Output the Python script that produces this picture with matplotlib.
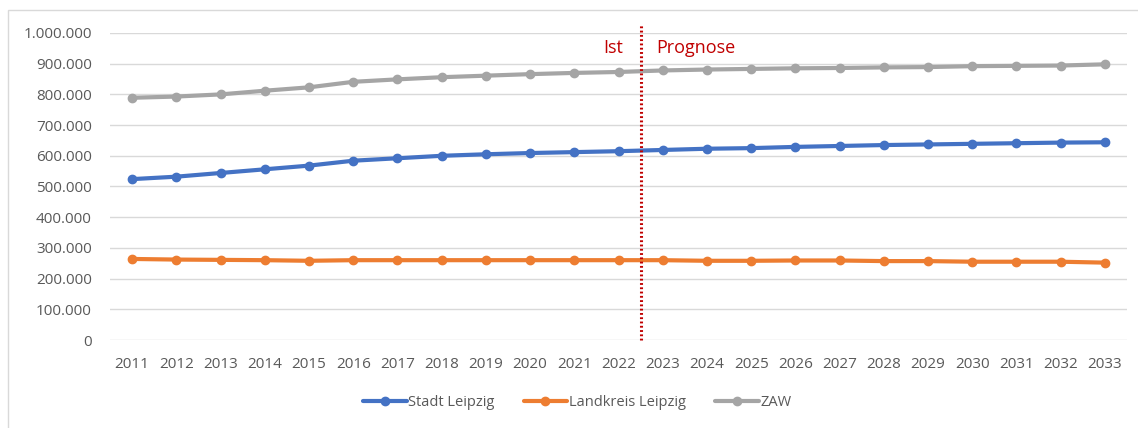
import matplotlib
matplotlib.use("Agg")
import matplotlib.pyplot as plt
from matplotlib.patches import Rectangle
from matplotlib.ticker import FuncFormatter

# data
years = list(range(2011, 2034))
stadt_leipzig = [524000, 532000, 544000, 556000, 568000, 584000, 592000, 600000,
                 605000, 609000, 612000, 615000, 619000, 623000, 625000, 629000,
                 632000, 635000, 637000, 639000, 641000, 643000, 644000]
landkreis_leipzig = [264000, 262000, 261000, 260000, 258000, 260000, 260000, 260000,
                     260000, 260000, 260000, 260000, 260000, 258000, 258000, 259000,
                     259000, 257000, 257000, 255000, 255000, 255000, 252000]
zaw = [789000, 793000, 800000, 812000, 823000, 841000, 849000, 856000,
       861000, 866000, 870000, 873000, 878000, 881000, 883000, 885000,
       886000, 888000, 889000, 892000, 893000, 894000, 898000]
series_names = ["Stadt Leipzig", "Landkreis Leipzig", "ZAW"]
series_colors = ["#4472C4", "#ED7D31", "#A5A5A5"]
split_pos = 11.5  # between 2022 and 2023

plt.rcParams['font.family'] = ['Open Sans', 'DejaVu Sans']
txt_col = "#595959"

fig = plt.figure(figsize=(11.38, 4.28), dpi=100)
ax = fig.add_axes([110 / 1138, 1 - 340 / 428, (1127 - 110) / 1138, (340 - 33) / 428])

# chart border (Excel style, cropped at right/bottom)
fig.patches.append(Rectangle((8 / 1138, -0.1), 1.2, 1 - 10 / 428 + 0.1,
                             transform=fig.transFigure, fill=False,
                             edgecolor="#D9D9D9", linewidth=1))

x = list(range(len(years)))
for vals, name, col in zip([stadt_leipzig, landkreis_leipzig, zaw], series_names, series_colors):
    ax.plot(x, vals, color=col, lw=3, marker="o", markersize=6, label=name,
            solid_capstyle="round", zorder=3)

ax.set_xlim(-0.5, len(years) - 0.5)
ax.set_ylim(0, 1000000)
ax.set_yticks(range(0, 1000001, 100000))
ax.yaxis.set_major_formatter(FuncFormatter(lambda v, p: f"{int(v):,}".replace(",", ".")))
ax.set_xticks(x)
ax.set_xticklabels([str(y) for y in years])
ax.grid(axis="y", color="#D9D9D9", lw=1)
ax.set_axisbelow(True)
for s in ax.spines.values():
    s.set_visible(False)
ax.tick_params(length=0, labelsize=11, labelcolor=txt_col)
ax.tick_params(axis="x", pad=12)
ax.tick_params(axis="y", pad=13)

# Ist / Prognose split
ax.plot([split_pos, split_pos], [0, 1026000], color="#C00000", lw=2.2,
        linestyle=(0, (0.6, 0.8)), clip_on=False, zorder=4)
ax.text(10.88, 951000, "Ist", color="#C00000", fontsize=13, ha="center", va="center")
ax.text(11.86, 951000, "Prognose", color="#C00000", fontsize=13, ha="left", va="center")

fig.legend(loc="center", bbox_to_anchor=(577 / 1138, 1 - 403 / 428), ncol=3,
           frameon=False, fontsize=10.5, labelcolor=txt_col, handlelength=3,
           handletextpad=0.1, columnspacing=2.0)

fig.savefig("out.png", dpi=100)
